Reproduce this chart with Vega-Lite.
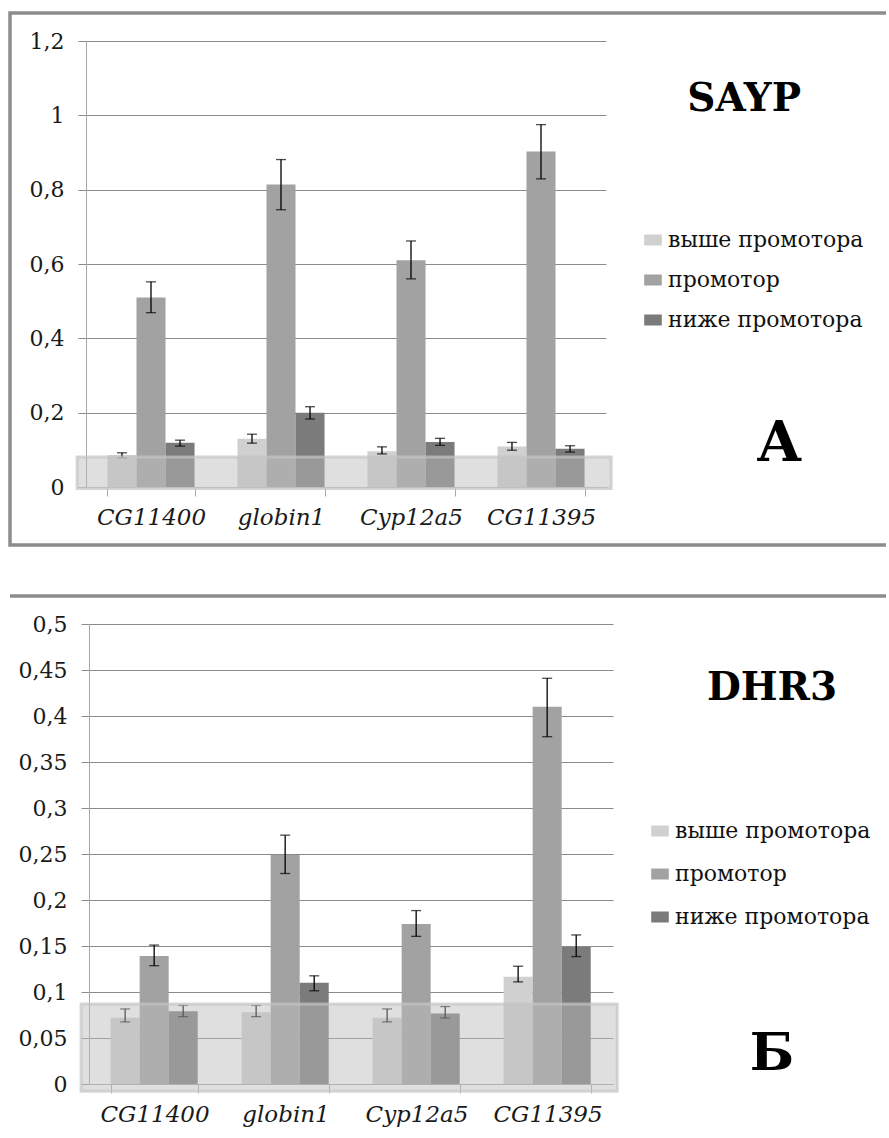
{
  "$schema": "https://vega.github.io/schema/vega-lite/v6.json",
  "padding": {"top": 11, "left": 8, "right": 0, "bottom": 0},
  "autosize": {"type": "pad"},
  "background": "white",
  "spacing": 47,
  "resolve": {"legend": {"color": "independent"}},
  "datasets": {
    "sayp": [
      {"gene": "CG11400", "pos": "выше промотора", "value": 0.086, "lo": 0.079, "hi": 0.092},
      {"gene": "CG11400", "pos": "промотор", "value": 0.51, "lo": 0.469, "hi": 0.552},
      {"gene": "CG11400", "pos": "ниже промотора", "value": 0.119, "lo": 0.110, "hi": 0.126},
      {"gene": "globin1", "pos": "выше промотора", "value": 0.13, "lo": 0.118, "hi": 0.142},
      {"gene": "globin1", "pos": "промотор", "value": 0.814, "lo": 0.746, "hi": 0.881},
      {"gene": "globin1", "pos": "ниже промотора", "value": 0.2, "lo": 0.183, "hi": 0.216},
      {"gene": "Cyp12a5", "pos": "выше промотора", "value": 0.096, "lo": 0.089, "hi": 0.108},
      {"gene": "Cyp12a5", "pos": "промотор", "value": 0.61, "lo": 0.56, "hi": 0.662},
      {"gene": "Cyp12a5", "pos": "ниже промотора", "value": 0.121, "lo": 0.112, "hi": 0.131},
      {"gene": "CG11395", "pos": "выше промотора", "value": 0.109, "lo": 0.099, "hi": 0.120},
      {"gene": "CG11395", "pos": "промотор", "value": 0.903, "lo": 0.829, "hi": 0.975},
      {"gene": "CG11395", "pos": "ниже промотора", "value": 0.103, "lo": 0.094, "hi": 0.111}
    ],
    "dhr3": [
      {"gene": "CG11400", "pos": "выше промотора", "value": 0.072, "lo": 0.0675, "hi": 0.0816},
      {"gene": "CG11400", "pos": "промотор", "value": 0.139, "lo": 0.1286, "hi": 0.151},
      {"gene": "CG11400", "pos": "ниже промотора", "value": 0.079, "lo": 0.0732, "hi": 0.0854},
      {"gene": "globin1", "pos": "выше промотора", "value": 0.078, "lo": 0.0732, "hi": 0.0854},
      {"gene": "globin1", "pos": "промотор", "value": 0.249, "lo": 0.2288, "hi": 0.2705},
      {"gene": "globin1", "pos": "ниже промотора", "value": 0.110, "lo": 0.1013, "hi": 0.1176},
      {"gene": "Cyp12a5", "pos": "выше промотора", "value": 0.072, "lo": 0.0675, "hi": 0.0816},
      {"gene": "Cyp12a5", "pos": "промотор", "value": 0.174, "lo": 0.1605, "hi": 0.1885},
      {"gene": "Cyp12a5", "pos": "ниже промотора", "value": 0.0766, "lo": 0.0717, "hi": 0.0842},
      {"gene": "CG11395", "pos": "выше промотора", "value": 0.1165, "lo": 0.111, "hi": 0.128},
      {"gene": "CG11395", "pos": "промотор", "value": 0.41, "lo": 0.3775, "hi": 0.441},
      {"gene": "CG11395", "pos": "ниже промотора", "value": 0.149, "lo": 0.1385, "hi": 0.162}
    ],
    "bandA": [{"lo": -0.004, "hi": 0.081}],
    "bandB": [{"lo": -0.008, "hi": 0.087}]
  },
  "vconcat": [
    {
      "width": 876,
      "height": 532,
      "view": {"stroke": "#8c8c8c", "strokeWidth": 3.5, "strokeDash": [876, 532, 1408, 20], "fill": "white"},
      "title": {
        "text": "SAYP", "subtitle": "A", "anchor": "end", "align": "right", "frame": "group", "orient": "top",
        "offset": 0, "dx": -85, "dy": 459,
        "font": "DejaVu Serif, DejaVu Sans, sans-serif", "fontSize": 39, "fontWeight": "bold", "color": "#000",
        "subtitleFont": "DejaVu Serif, DejaVu Sans, sans-serif", "subtitleFontSize": 56, "subtitleFontWeight": "bold", "subtitleColor": "#000",
        "subtitlePadding": 298
      },
      "layer": [
        {
          "layer": [
            {
              "data": {"name": "sayp"},
              "mark": {"type": "bar"},
              "encoding": {
                "x": {"field": "gene", "type": "nominal", "sort": ["CG11400", "globin1", "Cyp12a5", "CG11395"],
                  "scale": {"range": [76, 596], "paddingInner": 0.33, "paddingOuter": 0.165},
                  "axis": {"title": null, "labelAngle": 0, "labelFont": "DejaVu Serif, DejaVu Sans, sans-serif", "labelFontStyle": "italic", "labelFontSize": 23, "labelColor": "#1a1a1a",
                    "domainColor": "#a8a8a8", "tickColor": "#a8a8a8", "tickSize": 9, "tickBand": "extent", "labelPadding": 10, "offset": -58, "grid": false}},
                "xOffset": {"field": "pos", "type": "nominal", "sort": ["выше промотора", "промотор", "ниже промотора"]},
                "y": {"field": "value", "type": "quantitative",
                  "scale": {"domain": [0, 1.2], "range": [474, 28], "nice": false, "zero": false},
                  "axis": {"title": null, "values": [0, 0.2, 0.4, 0.6, 0.8, 1, 1.2], "labelExpr": "replace(format(datum.value, '~g'), '.', ',')",
                    "labelFont": "DejaVu Serif, DejaVu Sans, sans-serif", "labelFontSize": 22, "labelColor": "#1a1a1a", "grid": true, "gridColor": "#8a8a8a",
                    "domainColor": "#a8a8a8", "tickColor": "#8a8a8a", "tickSize": 8, "labelPadding": 14, "offset": -76}},
                "color": {"field": "pos", "type": "nominal",
                  "scale": {"domain": ["выше промотора", "промотор", "ниже промотора"], "range": ["#d0d0d0", "#a2a2a2", "#7b7b7b"]},
                  "legend": {"title": null, "orient": "none", "legendX": 632, "legendY": 216, "symbolType": "M-1.6,-1H1.6V1H-1.6Z", "symbolSize": 121,
                    "symbolStrokeWidth": 0, "labelFont": "DejaVu Serif, DejaVu Sans, sans-serif", "labelFontSize": 22, "labelColor": "#111", "labelLimit": 400, "rowPadding": 18, "labelOffset": 4}}
              }
            },
            {
              "data": {"name": "sayp"},
              "mark": {"type": "rule", "color": "#000", "strokeWidth": 1.3},
              "encoding": {
                "x": {"field": "gene", "type": "nominal", "sort": ["CG11400", "globin1", "Cyp12a5", "CG11395"]},
                "xOffset": {"field": "pos", "type": "nominal", "sort": ["выше промотора", "промотор", "ниже промотора"]},
                "y": {"field": "lo", "type": "quantitative"},
                "y2": {"field": "hi"}
              }
            },
            {
              "data": {"name": "sayp"},
              "mark": {"type": "tick", "color": "#000", "thickness": 1.3, "size": 10},
              "encoding": {
                "x": {"field": "gene", "type": "nominal", "sort": ["CG11400", "globin1", "Cyp12a5", "CG11395"]},
                "xOffset": {"field": "pos", "type": "nominal", "sort": ["выше промотора", "промотор", "ниже промотора"]},
                "y": {"field": "lo", "type": "quantitative"}
              }
            },
            {
              "data": {"name": "sayp"},
              "mark": {"type": "tick", "color": "#000", "thickness": 1.3, "size": 10},
              "encoding": {
                "x": {"field": "gene", "type": "nominal", "sort": ["CG11400", "globin1", "Cyp12a5", "CG11395"]},
                "xOffset": {"field": "pos", "type": "nominal", "sort": ["выше промотора", "промотор", "ниже промотора"]},
                "y": {"field": "hi", "type": "quantitative"}
              }
            }
          ]
        },
        {
          "data": {"name": "bandA"},
          "mark": {"type": "rect", "fill": "#bcbcbc", "fillOpacity": 0.47, "stroke": "#c4c4c4", "strokeWidth": 3, "strokeOpacity": 0.7},
          "encoding": {
            "x": {"datum": -0.017, "type": "quantitative", "scale": {"domain": [0, 1], "range": [76, 596]}, "axis": null},
            "x2": {"datum": 1.01},
            "y": {"field": "lo", "type": "quantitative"},
            "y2": {"field": "hi"}
          }
        }
      ],
      "resolve": {"scale": {"x": "independent"}}
    },
    {
      "width": 876,
      "height": 530,
      "view": {"stroke": "#8c8c8c", "strokeWidth": 3.5, "strokeDash": [876, 5000], "fill": "white"},
      "title": {
        "text": "DHR3", "subtitle": "Б", "anchor": "end", "align": "center", "frame": "group", "orient": "top",
        "offset": 0, "dx": -114, "dy": 484,
        "font": "DejaVu Serif, DejaVu Sans, sans-serif", "fontSize": 39, "fontWeight": "bold", "color": "#000",
        "subtitleFont": "DejaVu Serif, DejaVu Sans, sans-serif", "subtitleFontSize": 52, "subtitleFontWeight": "bold", "subtitleColor": "#000",
        "subtitlePadding": 321
      },
      "layer": [
        {
          "layer": [
            {
              "data": {"name": "dhr3"},
              "mark": {"type": "bar"},
              "encoding": {
                "x": {"field": "gene", "type": "nominal", "sort": ["CG11400", "globin1", "Cyp12a5", "CG11395"],
                  "scale": {"range": [79, 603], "paddingInner": 0.33, "paddingOuter": 0.165},
                  "axis": {"title": null, "labelAngle": 0, "labelFont": "DejaVu Serif, DejaVu Sans, sans-serif", "labelFontStyle": "italic", "labelFontSize": 23, "labelColor": "#1a1a1a",
                    "domainColor": "#a8a8a8", "tickColor": "#a8a8a8", "tickSize": 9, "tickBand": "extent", "labelPadding": 10, "offset": -42, "grid": false}},
                "xOffset": {"field": "pos", "type": "nominal", "sort": ["выше промотора", "промотор", "ниже промотора"]},
                "y": {"field": "value", "type": "quantitative",
                  "scale": {"domain": [0, 0.5], "range": [488, 28], "nice": false, "zero": false},
                  "axis": {"title": null, "values": [0, 0.05, 0.1, 0.15, 0.2, 0.25, 0.3, 0.35, 0.4, 0.45, 0.5], "labelExpr": "replace(format(datum.value, '~g'), '.', ',')",
                    "labelFont": "DejaVu Serif, DejaVu Sans, sans-serif", "labelFontSize": 22, "labelColor": "#1a1a1a", "grid": true, "gridColor": "#8a8a8a",
                    "domainColor": "#a8a8a8", "tickColor": "#8a8a8a", "tickSize": 8, "labelPadding": 14, "offset": -79}},
                "color": {"field": "pos", "type": "nominal",
                  "scale": {"domain": ["выше промотора", "промотор", "ниже промотора"], "range": ["#d0d0d0", "#a2a2a2", "#7b7b7b"]},
                  "legend": {"title": null, "orient": "none", "legendX": 639, "legendY": 224, "symbolType": "M-1.6,-1H1.6V1H-1.6Z", "symbolSize": 121,
                    "symbolStrokeWidth": 0, "labelFont": "DejaVu Serif, DejaVu Sans, sans-serif", "labelFontSize": 22, "labelColor": "#111", "labelLimit": 400, "rowPadding": 21, "labelOffset": 4}}
              }
            },
            {
              "data": {"name": "dhr3"},
              "mark": {"type": "rule", "color": "#000", "strokeWidth": 1.3},
              "encoding": {
                "x": {"field": "gene", "type": "nominal", "sort": ["CG11400", "globin1", "Cyp12a5", "CG11395"]},
                "xOffset": {"field": "pos", "type": "nominal", "sort": ["выше промотора", "промотор", "ниже промотора"]},
                "y": {"field": "lo", "type": "quantitative"},
                "y2": {"field": "hi"}
              }
            },
            {
              "data": {"name": "dhr3"},
              "mark": {"type": "tick", "color": "#000", "thickness": 1.3, "size": 10},
              "encoding": {
                "x": {"field": "gene", "type": "nominal", "sort": ["CG11400", "globin1", "Cyp12a5", "CG11395"]},
                "xOffset": {"field": "pos", "type": "nominal", "sort": ["выше промотора", "промотор", "ниже промотора"]},
                "y": {"field": "lo", "type": "quantitative"}
              }
            },
            {
              "data": {"name": "dhr3"},
              "mark": {"type": "tick", "color": "#000", "thickness": 1.3, "size": 10},
              "encoding": {
                "x": {"field": "gene", "type": "nominal", "sort": ["CG11400", "globin1", "Cyp12a5", "CG11395"]},
                "xOffset": {"field": "pos", "type": "nominal", "sort": ["выше промотора", "промотор", "ниже промотора"]},
                "y": {"field": "hi", "type": "quantitative"}
              }
            }
          ]
        },
        {
          "data": {"name": "bandB"},
          "mark": {"type": "rect", "fill": "#bcbcbc", "fillOpacity": 0.47, "stroke": "#c4c4c4", "strokeWidth": 3, "strokeOpacity": 0.7},
          "encoding": {
            "x": {"datum": -0.015, "type": "quantitative", "scale": {"domain": [0, 1], "range": [79, 603]}, "axis": null},
            "x2": {"datum": 1.008},
            "y": {"field": "lo", "type": "quantitative"},
            "y2": {"field": "hi"}
          }
        }
      ],
      "resolve": {"scale": {"x": "independent"}}
    }
  ]
}
